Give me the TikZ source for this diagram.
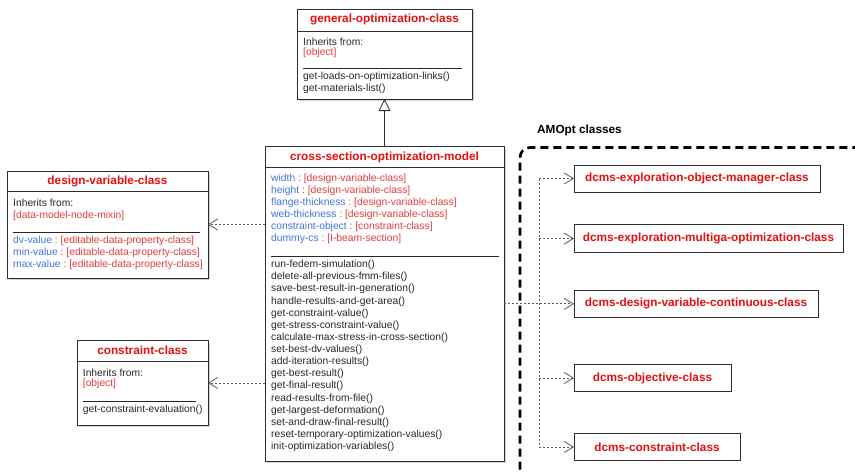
\documentclass[tikz,border=0pt]{standalone}
\usepackage{fontspec}
\setmainfont{Liberation Sans}
\usetikzlibrary{arrows.meta,shadows}

\definecolor{titlered}{RGB}{228,16,16}
\definecolor{typered}{RGB}{228,62,62}
\definecolor{attrblue}{RGB}{66,118,222}
\definecolor{txtgray}{RGB}{40,40,40}
\definecolor{boxline}{RGB}{45,45,45}
\definecolor{depgray}{RGB}{90,90,90}

\tikzset{
  classbox/.style={draw=boxline, fill=white, line width=0.9pt, inner sep=0pt, outer sep=0pt,
    anchor=north west, drop shadow={shadow xshift=2.2pt, shadow yshift=-2.2pt, opacity=0.35}},
  plainbox/.style={draw=boxline, fill=white, line width=0.9pt, inner sep=0pt, outer sep=0pt,
    anchor=north west},
  ttl/.style={font=\bfseries\fontsize{11.8}{14}\selectfont, text=titlered, inner sep=0pt},
  grouplabel/.style={font=\bfseries\fontsize{11.8}{14}\selectfont, text=black, inner sep=0pt, anchor=west},
  txt/.style={font=\fontsize{10.3}{12}\selectfont, text=txtgray, inner sep=0pt, anchor=west},
  sepline/.style={draw=boxline, line width=0.8pt},
  rule/.style={draw=txtgray, line width=0.8pt},
  dotline/.style={draw=depgray, line width=0.8pt, dash pattern=on 2pt off 2pt},
  dep/.style={dotline, -{Straight Barb[length=9pt,width=11pt,line width=0.8pt]}},
  inherit/.style={draw=boxline, line width=0.8pt, -{Triangle[open,length=12pt,width=12pt,line width=0.8pt]}},
  pkgframe/.style={draw=black, line width=2.6pt, dash pattern=on 8pt off 5pt, rounded corners=10pt},
}
% attribute line: blue name, red type
\newcommand{\attr}[2]{\textcolor{attrblue}{#1}\textcolor{typered}{\ :\ [#2]}}

\begin{document}
\begin{tikzpicture}[x=1pt,y=-1pt]
\useasboundingbox (0,0) rectangle (855,472);

% ---------------- AMOpt package frame ----------------
\begin{scope}
  \clip (0,0) rectangle (855,472);
  \draw[pkgframe] (880,478) -- (520,478) -- (520,147.5) -- (880,147.5);
\end{scope}
\node[grouplabel] (amopt) at (537,130) {AMOpt classes};

% ---------------- general-optimization-class ----------------
\node[classbox, minimum width=175pt, minimum height=90pt] (goc) at (297,9) {};
\node[ttl] (goct) at (384.5,19.5) {general-optimization-class};
\draw[sepline] (297,31.5) -- (472,31.5);
\node[txt] (goci) at (303,41.7) {Inherits from:};
\node[txt, text=typered] (goco) at (303,53) {[object]};
\draw[rule] (303,68.3) -- (462,68.3);
\node[txt] (gocm1) at (303,77.3) {get-loads-on-optimization-links()};
\node[txt] (gocm2) at (303,89.3) {get-materials-list()};

% ---------------- cross-section-optimization-model ----------------
\node[classbox, minimum width=239pt, minimum height=314.5pt] (csm) at (265,146.5) {};
\node[ttl] (csmt) at (384.5,157) {cross-section-optimization-model};
\draw[sepline] (265,167) -- (504,167);
\node[txt] (csa1) at (271,179.3) {\attr{width}{design-variable-class}};
\node[txt] (csa2) at (271,191.3) {\attr{height}{design-variable-class}};
\node[txt] (csa3) at (271,203.3) {\attr{flange-thickness}{design-variable-class}};
\node[txt] (csa4) at (271,215.3) {\attr{web-thickness}{design-variable-class}};
\node[txt] (csa5) at (271,227.3) {\attr{constraint-object}{constraint-class}};
\node[txt] (csa6) at (271,239.3) {\attr{dummy-cs}{I-beam-section}};
\draw[rule] (271,256) -- (498.5,256);
\foreach \m [count=\i from 0] in {run-fedem-simulation(),
  delete-all-previous-fmm-files(),
  save-best-result-in-generation(),
  handle-results-and-get-area(),
  get-constraint-value(),
  get-stress-constraint-value(),
  calculate-max-stress-in-cross-section(),
  set-best-dv-values(),
  add-iteration-results(),
  get-best-result(),
  get-final-result(),
  read-results-from-file(),
  get-largest-deformation(),
  set-and-draw-final-result(),
  reset-temporary-optimization-values(),
  init-optimization-variables()}
  \node[txt] (csmm\i) at (271,265+12.13*\i) {\m};

% ---------------- design-variable-class ----------------
\node[classbox, minimum width=201pt, minimum height=107pt] (dvc) at (7,171) {};
\node[ttl] (dvct) at (107.5,181) {design-variable-class};
\draw[sepline] (7,191) -- (208,191);
\node[txt] (dvci) at (13,203.3) {Inherits from:};
\node[txt, text=typered] (dvco) at (13,215.5) {[data-model-node-mixin]};
\draw[rule] (13,232) -- (200,232);
\node[txt] (dva1) at (13,240.7) {\attr{dv-value}{editable-data-property-class}};
\node[txt] (dva2) at (13,252.7) {\attr{min-value}{editable-data-property-class}};
\node[txt] (dva3) at (13,264.7) {\attr{max-value}{editable-data-property-class}};

% ---------------- constraint-class ----------------
\node[classbox, minimum width=131pt, minimum height=84.5pt] (ccl) at (77,340.7) {};
\node[ttl] (cclt) at (142.5,350.7) {constraint-class};
\draw[sepline] (77,361) -- (208,361);
\node[txt] (ccli) at (82.7,372.7) {Inherits from:};
\node[txt, text=typered] (cclo) at (82.7,384) {[object]};
\draw[rule] (82.7,401) -- (196,401);
\node[txt] (cclm) at (82.7,410) {get-constraint-evaluation()};

% ---------------- AMOpt classes ----------------
\node[plainbox, minimum width=246pt, minimum height=27pt] (eom) at (574,165) {};
\node[ttl] (eomt) at (eom.center) {dcms-exploration-object-manager-class};
\node[plainbox, minimum width=269pt, minimum height=28.5pt] (emo) at (574,224.3) {};
\node[ttl] (emot) at (emo.center) {dcms-exploration-multiga-optimization-class};
\node[plainbox, minimum width=244pt, minimum height=27.7pt] (dvcc) at (574,290) {};
\node[ttl] (dvcct) at (dvcc.center) {dcms-design-variable-continuous-class};
\node[plainbox, minimum width=157pt, minimum height=27.4pt] (obj) at (574,364.3) {};
\node[ttl] (objt) at (obj.center) {dcms-objective-class};
\node[plainbox, minimum width=166pt, minimum height=27.4pt] (dcc) at (574,433.3) {};
\node[ttl] (dcct) at (dcc.center) {dcms-constraint-class};

% ---------------- connectors ----------------
\draw[inherit] (csm.north -| goc.south) -- (goc.south);
\draw[dep] (csm.west |- dvc.east) -- (dvc.east);
\draw[dep] (csm.west |- ccl.east) -- (ccl.east);

\coordinate (trunk) at (539,0);
\draw[dotline] (trunk |- eom.west) -- (trunk |- dcc.west);
\draw[dep] (csm.east |- dvcc.west) -- (dvcc.west);
\draw[dep] (trunk |- eom.west) -- (eom.west);
\draw[dep] (trunk |- emo.west) -- (emo.west);
\draw[dep] (trunk |- obj.west) -- (obj.west);
\draw[dep] (trunk |- dcc.west) -- (dcc.west);
\end{tikzpicture}
\end{document}
